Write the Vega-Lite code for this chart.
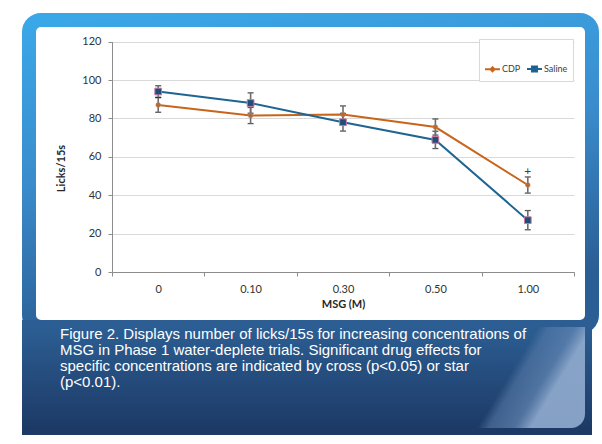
{
  "$schema": "https://vega.github.io/schema/vega-lite/v6.json",
  "background": "white",
  "padding": {"left": 22, "top": 13, "right": 0, "bottom": 0},
  "spacing": 0,
  "bounds": "flush",
  "resolve": {"scale": {"color": "independent"}, "legend": {"color": "independent"}},
  "config": {
    "font": "Lato",
    "axis": {"labelFont": "Lato", "titleFont": "Lato", "labelColor": "#333333", "titleColor": "#262626", "labelFontSize": 11, "titleFontSize": 11, "titleFontWeight": "bold"}
  },
  "vconcat": [
    {
      "width": 563,
      "height": 307,
      "view": {
        "fill": "white",
        "cornerRadius": 12,
        "strokeWidth": 14,
        "stroke": {"gradient": "linear", "x1": 0, "y1": 0, "x2": 0.25, "y2": 1, "stops": [{"offset": 0, "color": "#3aa8e8"}, {"offset": 0.5, "color": "#3a8ccc"}, {"offset": 1, "color": "#2b5e94"}]}
      },
      "data": {"values": [
        {"msg": "0", "series": "CDP", "val": 87, "se": 3.8},
        {"msg": "0.10", "series": "CDP", "val": 81.5, "se": 4.2},
        {"msg": "0.30", "series": "CDP", "val": 82, "se": 4.5},
        {"msg": "0.50", "series": "CDP", "val": 75.5, "se": 4.2},
        {"msg": "1.00", "series": "CDP", "val": 45.3, "se": 4.2},
        {"msg": "0", "series": "Saline", "val": 94, "se": 3},
        {"msg": "0.10", "series": "Saline", "val": 88, "se": 5.3},
        {"msg": "0.30", "series": "Saline", "val": 78, "se": 4.6},
        {"msg": "0.50", "series": "Saline", "val": 68.8, "se": 4.5},
        {"msg": "1.00", "series": "Saline", "val": 27, "se": 5}
      ]},
      "encoding": {
        "x": {
          "field": "msg", "type": "ordinal", "sort": null,
          "scale": {"type": "band", "range": [83, 545], "paddingInner": 0, "paddingOuter": 0},
          "axis": {"offset": -55, "tickBand": "extent", "tickSize": 4, "labelAngle": 0, "labelPadding": 7, "title": "MSG (M)", "titlePadding": 4, "grid": false, "domainColor": "#8c8c8c", "tickColor": "#8c8c8c"}
        },
        "y": {
          "field": "val", "type": "quantitative",
          "scale": {"domain": [0, 120], "range": [252, 21.6], "nice": false},
          "axis": {"offset": -83, "values": [0, 20, 40, 60, 80, 100, 120], "tickSize": 4, "labelPadding": 7, "grid": true, "gridColor": "#d9d9d9", "domainColor": "#8c8c8c", "tickColor": "#8c8c8c", "title": "Licks/15s", "titleX": -51, "titleY": 148, "titleAngle": -90, "titleBaseline": "middle", "titleAlign": "center"}
        }
      },
      "layer": [
        {
          "mark": {"type": "line", "strokeWidth": 2},
          "encoding": {
            "color": {
              "field": "series", "type": "nominal",
              "scale": {"domain": ["CDP", "Saline"], "range": ["#c8651b", "#1f6592"]},
              "legend": {
                "title": " ", "titleFontSize": 10, "titlePadding": 6, "orient": "top-right", "offset": 19, "direction": "horizontal",
                "fillColor": "white", "strokeColor": "#d9d9d9", "padding": 5,
                "labelFont": "Lato", "labelFontSize": 9, "labelColor": "#404040",
                "symbolSize": 225, "symbolStrokeWidth": 2, "labelOffset": 1, "columnPadding": 2,
                "encode": {"symbols": {"update": {
                  "shape": {"signal": "datum.value === 'CDP' ? 'M-1,0H1M0,-0.26L0.26,0L0,0.26L-0.26,0Z' : 'M-1,0H1M-0.34,-0.34H0.34V0.34H-0.34Z'"},
                  "fill": {"signal": "datum.value === 'CDP' ? '#c8651b' : '#1f4e79'"},
                  "stroke": {"signal": "datum.value === 'CDP' ? '#c8651b' : '#1f6592'"},
                  "strokeWidth": {"value": 2}
                }}}
              }
            }
          }
        },
        {
          "mark": {"type": "errorbar", "ticks": {"color": "#111111", "size": 6, "thickness": 1.3}, "rule": {"color": "#6e6e6e", "strokeWidth": 1.6}},
          "encoding": {"yError": {"field": "se"}}
        },
        {
          "transform": [{"filter": "datum.series === 'CDP'"}],
          "mark": {"type": "point", "shape": "circle", "filled": true, "size": 22, "fill": "#c8651b", "stroke": "#8f8f8f", "strokeWidth": 0.6, "opacity": 1}
        },
        {
          "transform": [{"filter": "datum.series === 'Saline'"}],
          "mark": {"type": "point", "shape": "square", "filled": true, "size": 45, "fill": "#1f4e79", "stroke": "#c878a0", "strokeWidth": 1, "opacity": 1}
        },
        {
          "data": {"values": [{"msg": "1.00", "val": 52.5, "mark": "+"}]},
          "mark": {"type": "text", "fontSize": 12, "color": "#404040", "baseline": "middle", "font": "Lato"},
          "encoding": {"text": {"field": "mark"}}
        }
      ]
    },
    {
      "width": 556,
      "height": 101,
      "view": {
        "strokeWidth": 14,
        "cornerRadius": 0,
        "stroke": {"gradient": "linear", "x1": 0, "y1": 0, "x2": 0, "y2": 1, "stops": [{"offset": 0, "color": "#2c5e93"}, {"offset": 1, "color": "#1d3a66"}]}
      },
      "data": {"values": [{}]},
      "title": {
        "text": [
          "Figure 2. Displays number of licks/15s for increasing concentrations of",
          "MSG in Phase 1 water-deplete trials. Significant drug effects for",
          "specific concentrations are indicated by cross (p<0.05) or star",
          "(p<0.01)."
        ],
        "orient": "top", "anchor": "start", "frame": "group", "offset": -63, "dx": 31,
        "color": "white", "font": "Liberation Sans", "fontSize": 15, "fontWeight": "normal", "lineHeight": 15.9
      },
      "layer": [
        {
          "mark": {"type": "rect",
            "fill": {"gradient": "linear", "x1": 0, "y1": 0, "x2": 0, "y2": 1, "stops": [{"offset": 0, "color": "#2c5e93"}, {"offset": 1, "color": "#1d3a66"}]}}
        },
        {
          "mark": {"type": "rect", "cornerRadiusBottomRight": 14,
            "fill": {"gradient": "linear", "x1": 0, "y1": 0, "x2": 1, "y2": 0.11, "stops": [{"offset": 0, "color": "rgba(90,125,170,0)"}, {"offset": 0.905, "color": "rgba(90,125,170,0)"}, {"offset": 0.925, "color": "rgba(90,125,170,0.55)"}, {"offset": 0.97, "color": "rgba(100,135,180,0.7)"}, {"offset": 1, "color": "rgba(145,172,207,0.9)"}]}}
        }
      ]
    }
  ]
}
